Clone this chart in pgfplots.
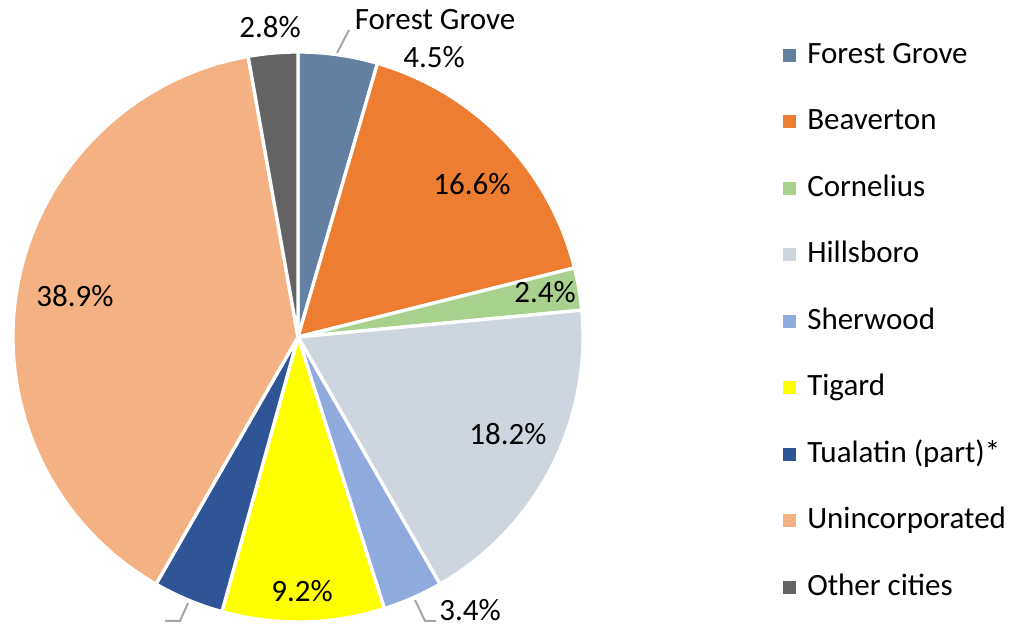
\documentclass[border=0pt]{standalone}
\usepackage{pgfplots}
\usepackage{pgfplotstable}
\pgfplotsset{compat=1.18}
\usepackage{fontspec}
\setmainfont{Carlito}
\definecolor{cFG}{HTML}{637FA1}
\definecolor{cBV}{HTML}{ED7D31}
\definecolor{cCO}{HTML}{A9D18E}
\definecolor{cHI}{HTML}{CDD5DF}
\definecolor{cSH}{HTML}{8FAADC}
\definecolor{cTI}{HTML}{FFFF00}
\definecolor{cTU}{HTML}{2F5597}
\definecolor{cUN}{HTML}{F4B183}
\definecolor{cOT}{HTML}{636363}
\definecolor{leader}{HTML}{A6A6A6}

\pgfplotstableread[col sep=comma]{
name,value,color
Forest Grove,4.5,cFG
Beaverton,16.6,cBV
Cornelius,2.4,cCO
Hillsboro,18.2,cHI
Sherwood,3.4,cSH
Tigard,9.2,cTI
Tualatin (part)*,4.0,cTU
Unincorporated,38.9,cUN
Other cities,2.8,cOT
}\piedata
\pgfplotstablecreatecol[create col/expr accum={\pgfmathaccuma + \thisrow{value}}{0}]{cum}\piedata

\begin{document}
\begin{tikzpicture}[font=\fontsize{23.25}{28}\selectfont]
\begin{axis}[
  scale only axis, width=762pt, height=470.25pt,
  xmin=0, xmax=1016, ymin=0, ymax=627,
  hide axis, clip=false,
  legend cell align=left,
  legend image code/.code={\path[#1] (0pt,-4.875pt) rectangle (9.75pt,4.875pt);},
  legend style={at={(axis cs:783,586.7)}, anchor=north west, draw=none, fill=none,
    inner sep=0pt, row sep=27.875pt, column sep=8.25pt,
    font=\fontsize{23.25}{28}\selectfont,
    nodes={inner xsep=0pt, inner ysep=0pt, text height=17pt, text depth=5pt}},
]
\pgfplotsextra{
  \pgfplotstablegetrowsof{\piedata}
  \pgfmathtruncatemacro\lastrow{\pgfplotsretval-1}
  \foreach \i in {0,...,\lastrow}{
    \pgfplotstablegetelem{\i}{value}\of\piedata \let\pv\pgfplotsretval
    \pgfplotstablegetelem{\i}{cum}\of\piedata \let\pc\pgfplotsretval
    \pgfplotstablegetelem{\i}{color}\of\piedata \let\pcol\pgfplotsretval
    \pgfmathsetmacro\sa{90-3.6*(\pc-\pv)}
    \pgfmathsetmacro\ea{90-3.6*\pc}
    \fill[fill=\pcol, draw=white, line width=2.5pt, line join=round]
      (axis cs:298,290) -- ++(\sa:213.75pt) arc[start angle=\sa, end angle=\ea, radius=213.75pt] -- cycle;
  }
}
\addlegendimage{fill=cFG, draw=none}\addlegendentry{Forest Grove}
\addlegendimage{fill=cBV, draw=none}\addlegendentry{Beaverton}
\addlegendimage{fill=cCO, draw=none}\addlegendentry{Cornelius}
\addlegendimage{fill=cHI, draw=none}\addlegendentry{Hillsboro}
\addlegendimage{fill=cSH, draw=none}\addlegendentry{Sherwood}
\addlegendimage{fill=cTI, draw=none}\addlegendentry{Tigard}
\addlegendimage{fill=cTU, draw=none}\addlegendentry{Tualatin (part)*}
\addlegendimage{fill=cUN, draw=none}\addlegendentry{Unincorporated}
\addlegendimage{fill=cOT, draw=none}\addlegendentry{Other cities}

\draw[leader, line width=1.5pt] (axis cs:337,574) -- (axis cs:349,597);
\draw[leader, line width=1.5pt] (axis cs:415,27) -- (axis cs:425,6) -- (axis cs:436,6);
\draw[leader, line width=1.5pt] (axis cs:188,24) -- (axis cs:180,6) -- (axis cs:165,6);

\node[anchor=base] at (axis cs:435,597) {Forest Grove};
\node[anchor=base] at (axis cs:434,559) {4.5\%};
\node[anchor=base] at (axis cs:270,589) {2.8\%};
\node[anchor=base] at (axis cs:472,432) {16.6\%};
\node[anchor=base] at (axis cs:545,324) {2.4\%};
\node[anchor=base] at (axis cs:508,182) {18.2\%};
\node[anchor=base] at (axis cs:75,320) {38.9\%};
\node[anchor=base] at (axis cs:302,25) {9.2\%};
\node[anchor=base] at (axis cs:470,6) {3.4\%};
\end{axis}
\pgfresetboundingbox
\useasboundingbox (0,0) rectangle (762pt,470.25pt);
\end{tikzpicture}
\end{document}
